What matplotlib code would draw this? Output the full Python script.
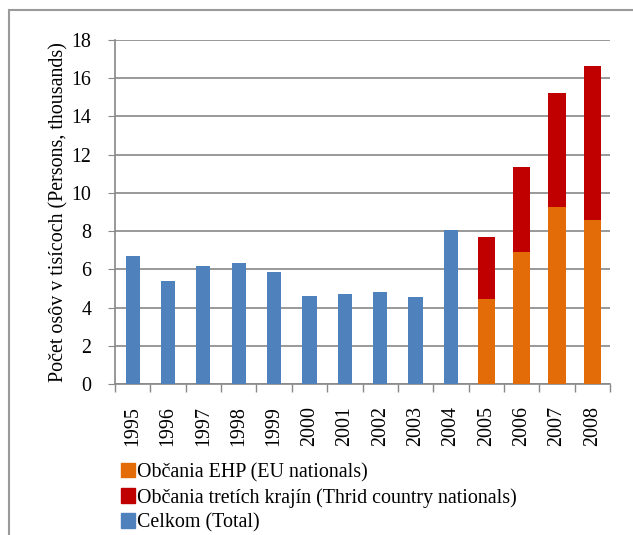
import matplotlib
matplotlib.use("Agg")
import matplotlib.pyplot as plt
import numpy as np
from matplotlib.patches import Rectangle, Patch

years = ["1995", "1996", "1997", "1998", "1999", "2000", "2001", "2002",
         "2003", "2004", "2005", "2006", "2007", "2008"]
total = [6.70, 5.41, 6.17, 6.33, 5.84, 4.60, 4.71, 4.80, 4.57, 8.06,
         np.nan, np.nan, np.nan, np.nan]
eu_nationals = [np.nan] * 10 + [4.43, 6.91, 9.24, 8.58]
third_country = [np.nan] * 10 + [3.24, 4.46, 5.97, 8.06]

labels = ["Občania EHP (EU nationals)",
          "Občania tretích krajín (Thrid country nationals)",
          "Celkom (Total)"]
c_eu, c_third, c_total = "#E36C09", "#C00000", "#4F81BD"

plt.rcParams["font.family"] = ["Liberation Serif", "DejaVu Serif"]
FS = 14.4

fig = plt.figure(figsize=(6.33, 5.35), dpi=100)
ax = fig.add_axes([115/633, 1-384/535, (610-115)/633, (384-40)/535])

x = np.arange(len(years))
ax.bar(x, total, width=0.40, color=c_total, zorder=3)
ax.bar(x, eu_nationals, width=0.49, color=c_eu, zorder=3)
ax.bar(x, third_country, width=0.49, bottom=eu_nationals, color=c_third, zorder=3)

ax.set_xlim(-0.5, len(years) - 0.5)
ax.set_ylim(0, 18)
ax.set_yticks(np.arange(0, 19, 2))
ax.tick_params(axis="y", labelsize=FS, length=5, color="#888888", pad=12)
ax.set_xticks(x)
ax.set_xticklabels(years, rotation=90, fontsize=FS)
ax.tick_params(axis="x", which="major", length=0, pad=16)
ax.set_xticks(np.arange(-0.5, len(years), 1), minor=True)
ax.tick_params(axis="x", which="minor", length=6, color="#888888", width=1)

ax.grid(axis="y", color="#888888", linewidth=1.2, zorder=0)
for s in ["top", "right"]:
    ax.spines[s].set_visible(False)
for s in ["left", "bottom"]:
    ax.spines[s].set_color("#888888")
    ax.spines[s].set_linewidth(1.2)

ax.set_ylabel("Počet osôv v tisícoch (Persons, thousands)", fontsize=FS, labelpad=2)

handles = [Patch(color=c_eu), Patch(color=c_third), Patch(color=c_total)]
fig.legend(handles, labels, loc="upper left", bbox_to_anchor=(121/633, 1-463/535),
           frameon=False, fontsize=FS, handlelength=0.72, handleheight=0.72,
           handletextpad=0.1, labelspacing=0.28, borderpad=0, borderaxespad=0)

fig.patches.append(Rectangle((9/633, -0.1), 1.2, 1.1 - 10/535,
                             transform=fig.transFigure, fill=False,
                             edgecolor="#9a9a9a", linewidth=1.5))

fig.savefig("out.png", dpi=100)
